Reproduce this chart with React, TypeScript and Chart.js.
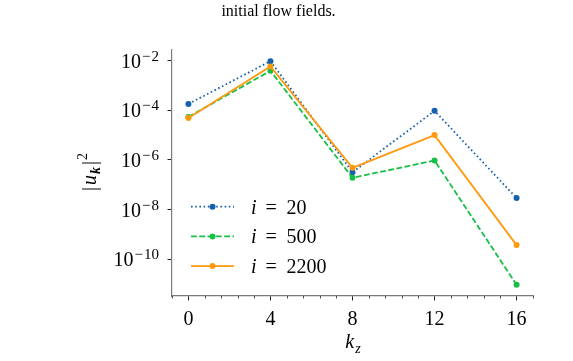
import React, { useEffect, useRef } from 'react';
import { Chart, registerables } from 'chart.js';

Chart.register(...registerables);

// Spectral energy |u_k|^2 per spanwise wavenumber k_z at three iterations
const kz = [0, 4, 8, 12, 16];
const energyI20 = [1.8e-4, 9.5e-3, 3.2e-7, 9.5e-5, 2.9e-8];
const energyI500 = [5.4e-5, 3.9e-3, 1.9e-7, 9.5e-7, 9.3e-12];
const energyI2200 = [4.9e-5, 5.8e-3, 4.8e-7, 1.0e-5, 3.7e-10];
const iterationLabels = ['20', '500', '2200'];
const xTicks = [0, 4, 8, 12, 16];
const yTickExponents = [-2, -4, -6, -8, -10];
const captionText = 'initial flow fields.';

const SERIF = '"Liberation Serif", "DejaVu Serif", serif';
const COLORS = ['#1561ad', '#17bf46', '#ff990d'];
const DASHES: number[][] = [[1.6, 2.6], [5.8, 2.5], []];
const LINE_W = 1.8;

type Seg = { t: string; font: string; dy?: number; gap?: number };

function drawRich(ctx: CanvasRenderingContext2D, x: number, y: number, segs: Seg[], align: 'left' | 'center' | 'right') {
  let total = 0;
  for (const s of segs) {
    ctx.font = s.font;
    total += (s.gap || 0) + ctx.measureText(s.t).width;
  }
  let cx = align === 'center' ? x - total / 2 : align === 'right' ? x - total : x;
  ctx.textAlign = 'left';
  ctx.textBaseline = 'alphabetic';
  for (const s of segs) {
    cx += s.gap || 0;
    ctx.font = s.font;
    ctx.fillText(s.t, cx, y + (s.dy || 0));
    cx += ctx.measureText(s.t).width;
  }
}

// data range with 5% margins (log space on y)
const allValues = [...energyI20, ...energyI500, ...energyI2200].map((v) => Math.log10(v));
const logMin = Math.min(...allValues);
const logMax = Math.max(...allValues);
const logPad = (logMax - logMin) * 0.05;
const xPad = (kz[kz.length - 1] - kz[0]) * 0.05;

const decorations = {
  id: 'decorations',
  afterDraw(chart: any) {
    const ctx: CanvasRenderingContext2D = chart.ctx;
    const xs = chart.scales.x;
    const ys = chart.scales.y;
    const area = chart.chartArea;
    ctx.save();
    ctx.fillStyle = '#000';

    // caption line
    drawRich(ctx, 278.5, 16, [{ t: captionText, font: `16px ${SERIF}` }], 'center');

    // minor x ticks
    ctx.strokeStyle = '#222';
    ctx.lineWidth = 0.8;
    const step = 0.8;
    for (let v = xs.min; v <= xs.max + 1e-6; v += step) {
      const isMajor = xTicks.some((t) => Math.abs(t - v) < 1e-6);
      if (isMajor) continue;
      const px = Math.round(xs.getPixelForValue(v)) + 0.5;
      ctx.beginPath();
      ctx.moveTo(px, area.bottom);
      ctx.lineTo(px, area.bottom + 2.5);
      ctx.stroke();
    }

    // x tick labels
    for (const t of xTicks) {
      drawRich(ctx, xs.getPixelForValue(t), 325, [{ t: String(t), font: `20px ${SERIF}` }], 'center');
    }

    // y tick labels with exponents
    for (const e of yTickExponents) {
      const py = ys.getPixelForValue(Math.pow(10, e));
      drawRich(
        ctx,
        159,
        py + 7,
        [
          { t: '10', font: `20px ${SERIF}` },
          { t: '\u2212', font: `15px ${SERIF}`, dy: -7, gap: 1 },
          { t: String(Math.abs(e)), font: `15px ${SERIF}`, dy: -7, gap: 1 },
        ],
        'right'
      );
    }

    // x axis title k_z
    drawRich(
      ctx,
      353,
      348,
      [
        { t: 'k', font: `italic 20px ${SERIF}` },
        { t: 'z', font: `italic 14px ${SERIF}`, dy: 5, gap: 1 },
      ],
      'center'
    );

    // y axis title |u_k|^2
    ctx.save();
    ctx.translate(95.5, (area.top + area.bottom) / 2 - 1);
    ctx.rotate(-Math.PI / 2);
    drawRich(
      ctx,
      0,
      0,
      [
        { t: '|', font: `20px ${SERIF}` },
        { t: 'u', font: `italic 20px ${SERIF}`, gap: 2 },
        { t: 'k', font: `italic bold 14px ${SERIF}`, dy: 4, gap: 1 },
        { t: '|', font: `20px ${SERIF}`, gap: 2 },
        { t: '2', font: `14px ${SERIF}`, dy: -9, gap: 1 },
      ],
      'center'
    );
    ctx.restore();

    // legend
    for (let i = 0; i < iterationLabels.length; i++) {
      const y = 206.7 + 29.7 * i;
      ctx.strokeStyle = COLORS[i];
      ctx.lineWidth = LINE_W;
      ctx.setLineDash(DASHES[i]);
      ctx.beginPath();
      ctx.moveTo(191, y);
      ctx.lineTo(234, y);
      ctx.stroke();
      ctx.setLineDash([]);
      ctx.fillStyle = COLORS[i];
      ctx.beginPath();
      ctx.arc(212.5, y, 3, 0, Math.PI * 2);
      ctx.fill();
      ctx.fillStyle = '#000';
      drawRich(ctx, 251, y + 7, [{ t: 'i', font: `italic 20px ${SERIF}` }], 'left');
      drawRich(ctx, 265.5, y + 7, [{ t: '=', font: `20px ${SERIF}` }], 'left');
      drawRich(ctx, 286.5, y + 7, [{ t: iterationLabels[i], font: `20px ${SERIF}` }], 'left');
    }
    ctx.restore();
  },
};

export default function App() {
  const canvasRef = useRef<HTMLCanvasElement | null>(null);

  useEffect(() => {
    if (!canvasRef.current) return;
    const series = [energyI20, energyI500, energyI2200];
    const datasets = series.map((vals, i) => ({
      label: `i = ${iterationLabels[i]}`,
      data: kz.map((k, j) => ({ x: k, y: vals[j] })),
      borderColor: COLORS[i],
      backgroundColor: COLORS[i],
      borderWidth: LINE_W,
      borderDash: DASHES[i],
      pointRadius: 3,
      pointBorderWidth: 0,
      pointBackgroundColor: COLORS[i],
      fill: false,
      tension: 0,
      order: 3 - i,
    }));

    const chart = new Chart(canvasRef.current, {
      type: 'line',
      data: { datasets },
      plugins: [decorations],
      options: {
        responsive: false,
        animation: false,
        devicePixelRatio: 1,
        layout: { padding: { left: 0, top: 50, right: 40, bottom: 0 } },
        plugins: { legend: { display: false }, tooltip: { enabled: false }, title: { display: false } },
        scales: {
          x: {
            type: 'linear',
            min: kz[0] - xPad,
            max: kz[kz.length - 1] + xPad,
            afterBuildTicks: (scale: any) => {
              scale.ticks = xTicks.map((v) => ({ value: v }));
            },
            afterFit: (scale: any) => {
              scale.height = 65;
            },
            ticks: { display: false },
            grid: {
              display: true,
              drawOnChartArea: false,
              drawTicks: true,
              tickLength: 4.5,
              tickColor: '#222',
              tickWidth: 1,
            },
            border: { display: true, color: '#7a7a7a', width: 1.2 },
          },
          y: {
            type: 'logarithmic',
            min: Math.pow(10, logMin - logPad),
            max: Math.pow(10, logMax + logPad),
            afterBuildTicks: (scale: any) => {
              scale.ticks = yTickExponents.map((e) => ({ value: Math.pow(10, e) }));
            },
            afterFit: (scale: any) => {
              scale.width = 172;
            },
            ticks: { display: false },
            grid: {
              display: true,
              drawOnChartArea: false,
              drawTicks: true,
              tickLength: 4.5,
              tickColor: '#222',
              tickWidth: 1,
            },
            border: { display: true, color: '#7a7a7a', width: 1.2 },
          },
        },
      },
    } as any);
    return () => chart.destroy();
  }, []);

  return (
    <div style={{ position: 'absolute', left: 0, top: 0, width: 573, height: 361, background: '#fff' }}>
      <canvas ref={canvasRef} width={573} height={361} style={{ width: 573, height: 361, display: 'block' }} />
    </div>
  );
}
